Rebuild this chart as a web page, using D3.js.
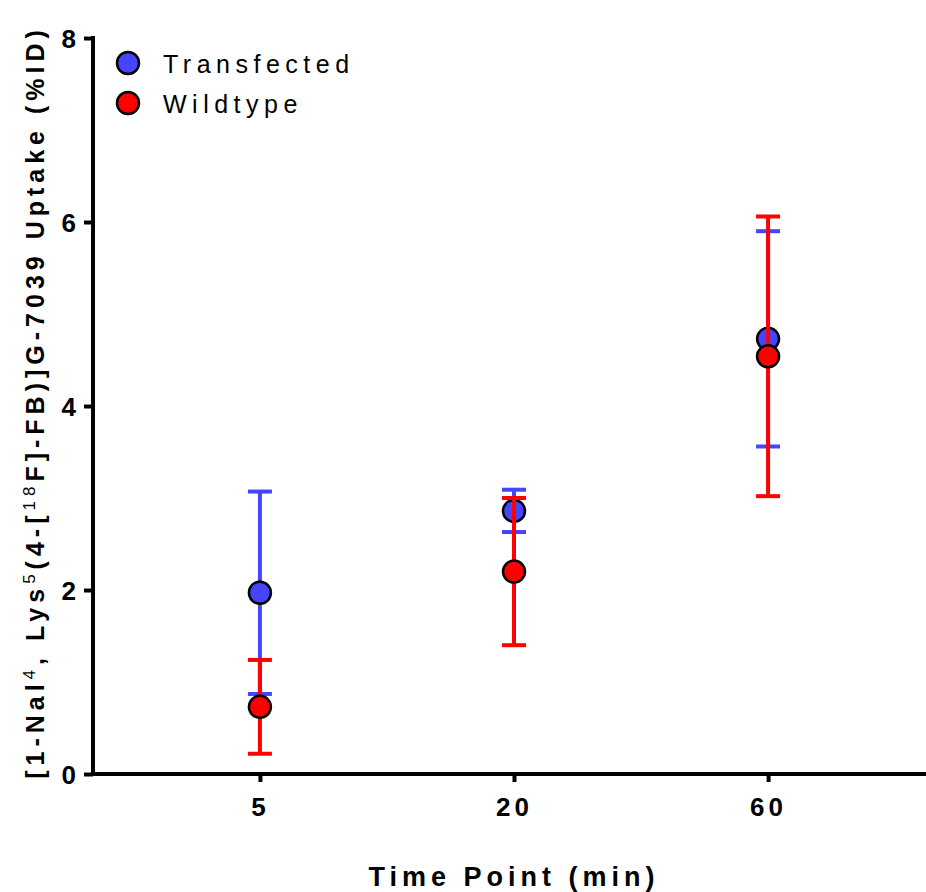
<!DOCTYPE html>
<html>
<head>
<meta charset="utf-8">
<script src="https://cdn.jsdelivr.net/npm/d3@7"></script>
<style>
  body { margin: 0; background: #fff; }
  text { font-family: "Liberation Sans", Arial, sans-serif; }
</style>
</head>
<body id="viz">
<script>
// data
var timePoints = ["5", "20", "60"]
var transfectedMean = [1.97, 2.86, 4.73]
var transfectedSd = [1.10, 0.23, 1.17]
var wildtypeMean = [0.73, 2.20, 4.54]
var wildtypeSd = [0.51, 0.80, 1.52]
var yTicks = [0, 2, 4, 6, 8]

var series = [
  {name: "Transfected", mean: transfectedMean, sd: transfectedSd, color: "#4545ff"},
  {name: "Wildtype", mean: wildtypeMean, sd: wildtypeSd, color: "#ff0000"}
]

// sizes
svg_width = 926
svg_height = 892
axis_width = 4
bar_width = 4
cap_half = 12
dot_r = 11

svg = d3.select("body#viz")
  .append("svg")
  .attr("width", svg_width)
  .attr("height", svg_height)

var x = d3.scalePoint()
  .domain(timePoints)
  .range([93, 935])
  .padding(0.657)

var y = d3.scaleLinear()
  .domain([0, 8])
  .range([774, 38])

// y axis
var yAxis = svg.append("g")
  .attr("transform", "translate(93,0)")
  .call(d3.axisLeft(y).tickValues(yTicks).tickSize(9).tickPadding(8))
yAxis.select(".domain").remove()
yAxis.selectAll(".tick line").attr("stroke", "#000").attr("stroke-width", axis_width)
yAxis.selectAll(".tick text")
  .style("font-size", "26px").style("font-weight", "bold").attr("fill", "#000")
  .attr("dy", "0.36em")
svg.append("line")
  .attr("x1", 93).attr("x2", 93)
  .attr("y1", y(8) - 2).attr("y2", y(0) + 2)
  .attr("stroke", "#000").attr("stroke-width", axis_width)

// x axis
var xAxis = svg.append("g")
  .attr("transform", "translate(0," + y(0) + ")")
  .call(d3.axisBottom(x).tickSize(8).tickPadding(16))
xAxis.select(".domain").remove()
xAxis.selectAll(".tick line").attr("stroke", "#000").attr("stroke-width", axis_width)
xAxis.selectAll(".tick text")
  .style("font-size", "26px").style("font-weight", "bold").attr("fill", "#000")
  .style("letter-spacing", "4px")
svg.append("line")
  .attr("x1", 91).attr("x2", svg_width)
  .attr("y1", y(0)).attr("y2", y(0))
  .attr("stroke", "#000").attr("stroke-width", axis_width)

// error bars + dots
series.forEach(function(s) {
  var g = svg.append("g")
  var rows = timePoints.map(function(t, i) { return {t: t, m: s.mean[i], sd: s.sd[i]} })

  g.selectAll("line.bar").data(rows).enter().append("line")
    .attr("x1", function(d) { return x(d.t) }).attr("x2", function(d) { return x(d.t) })
    .attr("y1", function(d) { return y(d.m + d.sd) }).attr("y2", function(d) { return y(d.m - d.sd) })
    .attr("stroke", s.color).attr("stroke-width", bar_width)

  g.selectAll("line.capTop").data(rows).enter().append("line")
    .attr("x1", function(d) { return x(d.t) - cap_half }).attr("x2", function(d) { return x(d.t) + cap_half })
    .attr("y1", function(d) { return y(d.m + d.sd) }).attr("y2", function(d) { return y(d.m + d.sd) })
    .attr("stroke", s.color).attr("stroke-width", bar_width)

  g.selectAll("line.capBot").data(rows).enter().append("line")
    .attr("x1", function(d) { return x(d.t) - cap_half }).attr("x2", function(d) { return x(d.t) + cap_half })
    .attr("y1", function(d) { return y(d.m - d.sd) }).attr("y2", function(d) { return y(d.m - d.sd) })
    .attr("stroke", s.color).attr("stroke-width", bar_width)

  g.selectAll("circle").data(rows).enter().append("circle")
    .attr("cx", function(d) { return x(d.t) })
    .attr("cy", function(d) { return y(d.m) })
    .attr("r", dot_r)
    .attr("fill", s.color)
    .attr("stroke", "#000").attr("stroke-width", 2.5)
})

// legend
var legend = svg.append("g")
series.forEach(function(s, i) {
  legend.append("circle")
    .attr("cx", 128).attr("cy", 63 + i * 40)
    .attr("r", dot_r)
    .attr("fill", s.color).attr("stroke", "#000").attr("stroke-width", 2.5)
  legend.append("text")
    .attr("x", 163).attr("y", 64 + i * 40)
    .attr("dy", "0.36em")
    .style("font-size", "25px").style("letter-spacing", "5.5px")
    .text(s.name)
})

// x title
svg.append("text")
  .attr("x", 514).attr("y", 886)
  .attr("text-anchor", "middle")
  .style("font-size", "27px").style("font-weight", "bold").style("letter-spacing", "5px")
  .text("Time Point (min)")

// y title with superscripts
var yt = svg.append("text")
  .attr("transform", "translate(44," + 402 + ") rotate(-90)")
  .attr("text-anchor", "middle")
  .style("font-size", "25px").style("font-weight", "bold").style("letter-spacing", "5px")
var parts = [
  ["[1-Nal", false], ["4", true], [", Lys", false], ["5", true],
  ["(4-[", false], ["18", true], ["F]-FB)]G-7039 Uptake (%ID)", false]
]
parts.forEach(function(p) {
  var ts = yt.append("tspan").text(p[0])
  if (p[1]) ts.attr("baseline-shift", "super").style("font-size", "17px").style("font-weight", "normal")
})
</script>
</body>
</html>
